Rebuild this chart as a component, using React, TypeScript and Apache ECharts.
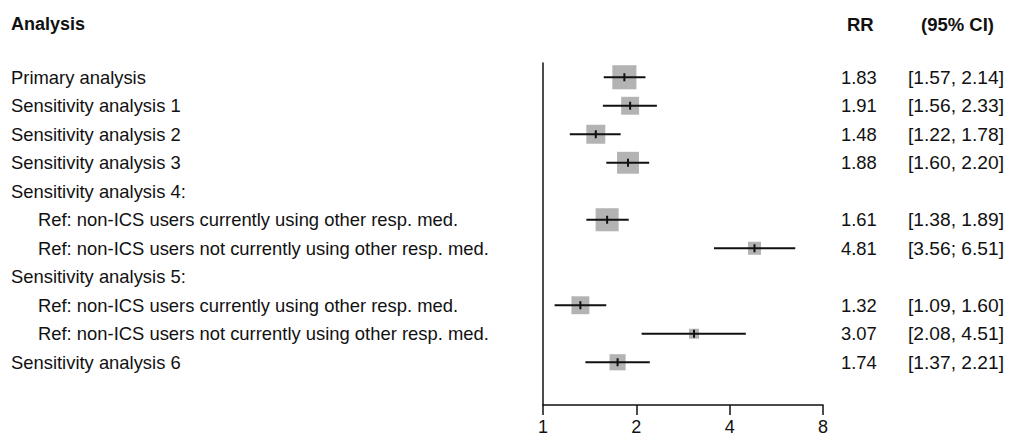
import React, { useEffect, useRef } from "react";
import * as echarts from "echarts";

const FONT = '"Liberation Sans", Arial, Helvetica, sans-serif';

// Rows of the forest plot (top to bottom)
const rowLabels = [
  "Primary analysis",
  "Sensitivity analysis 1",
  "Sensitivity analysis 2",
  "Sensitivity analysis 3",
  "Sensitivity analysis 4:",
  "Ref: non-ICS users currently using other resp. med.",
  "Ref: non-ICS users not currently using other resp. med.",
  "Sensitivity analysis 5:",
  "Ref: non-ICS users currently using other resp. med.",
  "Ref: non-ICS users not currently using other resp. med.",
  "Sensitivity analysis 6",
];
const isSubRow = [false, false, false, false, false, true, true, false, true, true, false];

// Estimates (rate ratio) and 95% CI
const rr = [1.83, 1.91, 1.48, 1.88, null, 1.61, 4.81, null, 1.32, 3.07, 1.74];
const lower = [1.57, 1.56, 1.22, 1.6, null, 1.38, 3.56, null, 1.09, 2.08, 1.37];
const upper = [2.14, 2.33, 1.78, 2.2, null, 1.89, 6.51, null, 1.6, 4.51, 2.21];
const ciText = [
  "[1.57, 2.14]",
  "[1.56, 2.33]",
  "[1.22, 1.78]",
  "[1.60, 2.20]",
  "",
  "[1.38, 1.89]",
  "[3.56; 6.51]",
  "",
  "[1.09, 1.60]",
  "[2.08, 4.51]",
  "[1.37, 2.21]",
];
// relative weights (box area)
const weights = [5.8, 3.2, 3.6, 4.8, null, 5.3, 1.7, null, 3.2, 1.0, 2.6];

const xTicks = [1, 2, 4, 8];

export default function App() {
  const ref = useRef<HTMLDivElement>(null);

  useEffect(() => {
    if (!ref.current) return;
    const chart = echarts.init(ref.current, null, { renderer: "svg" });

    const categories = [...rowLabels, ""];

    const boxData: any[] = [];
    const ciData: any[] = [];
    rr.forEach((v, i) => {
      if (v == null) return;
      boxData.push({ value: [v, i], symbolSize: 10 * Math.sqrt(weights[i] as number) });
      ciData.push([lower[i], upper[i], v, i]);
    });

    const option: any = {
      animation: false,
      grid: {
        left: 543,
        right: 186,
        top: 63,
        bottom: 34,
        containLabel: false,
        outerBoundsMode: "none",
      },
      xAxis: {
        type: "log",
        logBase: 2,
        min: xTicks[0],
        max: xTicks[xTicks.length - 1],
        axisLine: { show: true, onZero: false, lineStyle: { color: "#111", width: 1.5 } },
        axisTick: { show: true, length: 10, lineStyle: { color: "#111", width: 1.5 } },
        axisLabel: {
          fontSize: 18,
          lineHeight: 18,
          color: "#111",
          margin: 13,
          fontFamily: FONT,
          hideOverlap: false,
        },
        splitLine: { show: false },
        minorTick: { show: false },
      },
      yAxis: [
        {
          type: "category",
          inverse: true,
          data: categories,
          axisLine: { show: true, onZero: false, lineStyle: { color: "#111", width: 1.5 } },
          axisTick: { show: false },
          splitLine: { show: false },
          axisLabel: {
            interval: 0,
            align: "left",
            margin: 532,
            color: "#111",
            fontSize: 18.4,
            fontFamily: FONT,
            formatter: (val: string, idx: number) =>
              val === "" ? "" : isSubRow[idx] ? `{sub|${val}}` : `{main|${val}}`,
            rich: {
              main: { fontSize: 18.4, fontFamily: FONT, color: "#111" },
              sub: { fontSize: 18.4, fontFamily: FONT, color: "#111", padding: [0, 0, 0, 27] },
            },
          },
        },
        {
          type: "category",
          inverse: true,
          position: "right",
          data: categories,
          axisLine: { show: false },
          axisTick: { show: false },
          splitLine: { show: false },
          axisLabel: {
            interval: 0,
            align: "left",
            margin: 18,
            color: "#111",
            fontSize: 18.4,
            fontFamily: FONT,
            formatter: (_val: string, idx: number) =>
              rr[idx] == null ? "" : `{rr|${(rr[idx] as number).toFixed(2)}}{ci|${ciText[idx]}}`,
            rich: {
              rr: { width: 67, fontSize: 18.4, fontFamily: FONT, color: "#111" },
              ci: { fontSize: 19.2, fontFamily: FONT, color: "#111" },
            },
          },
        },
      ],
      graphic: [
        {
          type: "text",
          left: 11,
          top: 15,
          style: { text: "Analysis", font: `bold 18px ${FONT}`, fill: "#111" },
        },
        {
          type: "text",
          left: 847,
          top: 15,
          style: { text: "RR", font: `bold 18.5px ${FONT}`, fill: "#111" },
        },
        {
          type: "text",
          left: 921,
          top: 15,
          style: { text: "(95% CI)", font: `bold 18.5px ${FONT}`, fill: "#111" },
        },
      ],
      series: [
        {
          type: "scatter",
          yAxisIndex: 0,
          symbol: "rect",
          data: boxData,
          itemStyle: { color: "#b3b3b3", opacity: 1 },
          z: 2,
          silent: true,
        },
        {
          type: "custom",
          yAxisIndex: 0,
          data: ciData,
          encode: { x: [0, 1, 2], y: 3 },
          z: 3,
          silent: true,
          renderItem: (params: any, api: any) => {
            const row = api.value(3);
            const p0 = api.coord([api.value(0), row]);
            const p1 = api.coord([api.value(1), row]);
            const pe = api.coord([api.value(2), row]);
            return {
              type: "group",
              children: [
                {
                  type: "line",
                  shape: { x1: p0[0], y1: p0[1], x2: p1[0], y2: p1[1] },
                  style: { stroke: "#111", lineWidth: 2.2 },
                },
                {
                  type: "line",
                  shape: { x1: pe[0], y1: pe[1] - 4, x2: pe[0], y2: pe[1] + 4 },
                  style: { stroke: "#111", lineWidth: 2 },
                },
              ],
            };
          },
        },
      ],
    };

    chart.setOption(option);
    return () => chart.dispose();
  }, []);

  return (
    <div
      ref={ref}
      style={{ position: "fixed", left: 0, top: 0, width: 1009, height: 439, background: "#fff" }}
    />
  );
}
